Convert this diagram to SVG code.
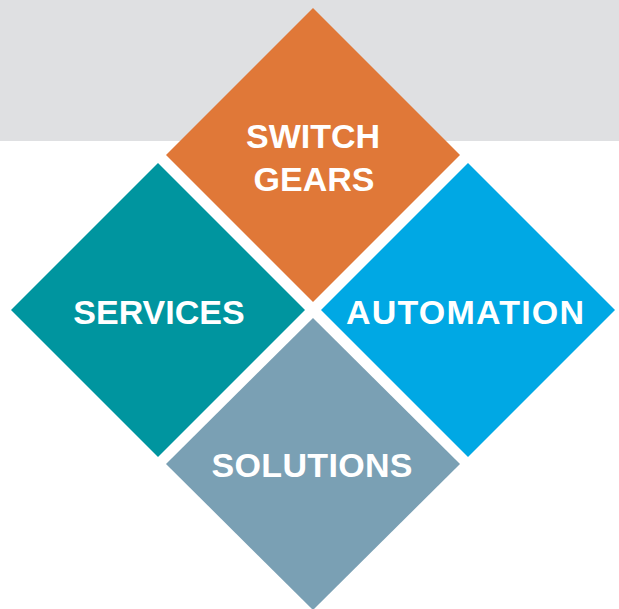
<svg xmlns="http://www.w3.org/2000/svg" width="619" height="609" viewBox="0 0 619 609">
<style>
.lbl{font-family:"Liberation Sans",Arial,sans-serif;font-weight:bold;font-size:34px;fill:#ffffff;text-anchor:middle}
</style>
<rect x="0" y="0" width="619" height="141" fill="#dfe0e2"/>
<g id="switch-gears">
<polygon points="313,8 460,155 313,302 166,155" fill="#e07838"/>
<text class="lbl" x="313" y="148">SWITCH</text>
<text class="lbl" x="314" y="191">GEARS</text>
</g>
<g id="services">
<polygon points="158,163 305,310 158,457 11,310" fill="#00959f"/>
<text class="lbl" x="159" y="324">SERVICES</text>
</g>
<g id="automation">
<polygon points="468,163 615,310 468,457 321,310" fill="#00a8e4"/>
<text class="lbl" x="465" y="324" textLength="238" lengthAdjust="spacing">AUTOMATION</text>
</g>
<g id="solutions">
<polygon points="313,318 460,464 313,610 166,464" fill="#7aa0b4"/>
<text class="lbl" x="312" y="477" textLength="201" lengthAdjust="spacing">SOLUTIONS</text>
</g>
<g id="connectors"></g>
</svg>
